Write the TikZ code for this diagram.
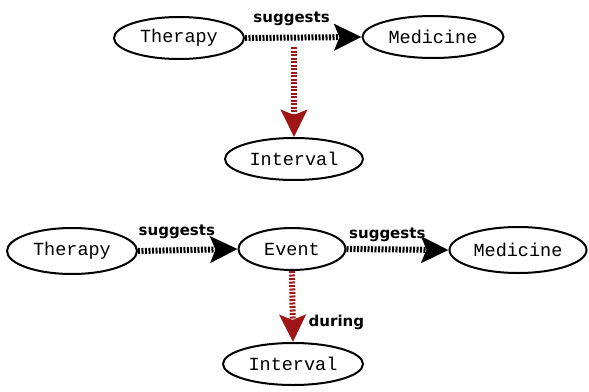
\documentclass[tikz,border=0pt]{standalone}
\usepackage{fontspec}
\setmonofont{Liberation Mono}
\newfontfamily\labelfont{DejaVu Sans}
\usepackage{tikz}
\usetikzlibrary{arrows.meta,shapes.geometric,positioning}

\definecolor{duringred}{RGB}{160,22,22}

\tikzset{
  concept/.style={ellipse, draw, line width=2pt, minimum height=42pt,
    inner sep=0pt, font=\fontsize{18.5}{21}\selectfont\ttfamily},
  rel/.style={line width=6pt, dash pattern=on 2pt off 1.5pt,
    -{Stealth[length=27pt,width=26pt,inset=5pt]}},
  relblack/.style={rel, black},
  relred/.style={rel, duringred},
  rlabel/.style={font=\fontsize{15}{18}\selectfont\labelfont\bfseries,
    inner sep=1pt, text=black}
}

\begin{document}
\begin{tikzpicture}[x=1pt,y=-1pt]
        \useasboundingbox (0,0) rectangle (589,391);
        % upper graph
        \node[concept, minimum width=130pt] (T1) at (179,38) {Therapy};
        \node[concept, minimum width=141pt] (M1) at (433,37) {Medicine};
        \node[concept, minimum width=138pt] (I1) at (294,159) {Interval};
        \coordinate (S1) at (294,47);
        \draw[relblack] (T1.east) -- node[rlabel, pos=0.4, above=8pt] (L1) {suggests} (M1.west);
        \draw[relred] (S1) -- (I1.north);
        % lower graph
        \node[concept, minimum width=130pt, minimum height=46pt] (T2) at (72,251) {Therapy};
        \node[concept, minimum width=107pt] (E2) at (292,249) {Event};
        \node[concept, minimum width=137pt, minimum height=46pt] (M2) at (518,250) {Medicine};
        \node[concept, minimum width=140pt] (I2) at (293,364) {Interval};
        \draw[relblack] (T2.east) -- node[rlabel, pos=0.39, above=7pt] (L2) {suggests} (E2.west);
        \draw[relblack] (E2.east) -- node[rlabel, pos=0.4, above=4pt] (L3) {suggests} (M2.west);
        \draw[relred] (E2.south) -- node[rlabel, pos=0.72, right=12pt] (L4) {during} (I2.north);
      \end{tikzpicture}
\end{document}
